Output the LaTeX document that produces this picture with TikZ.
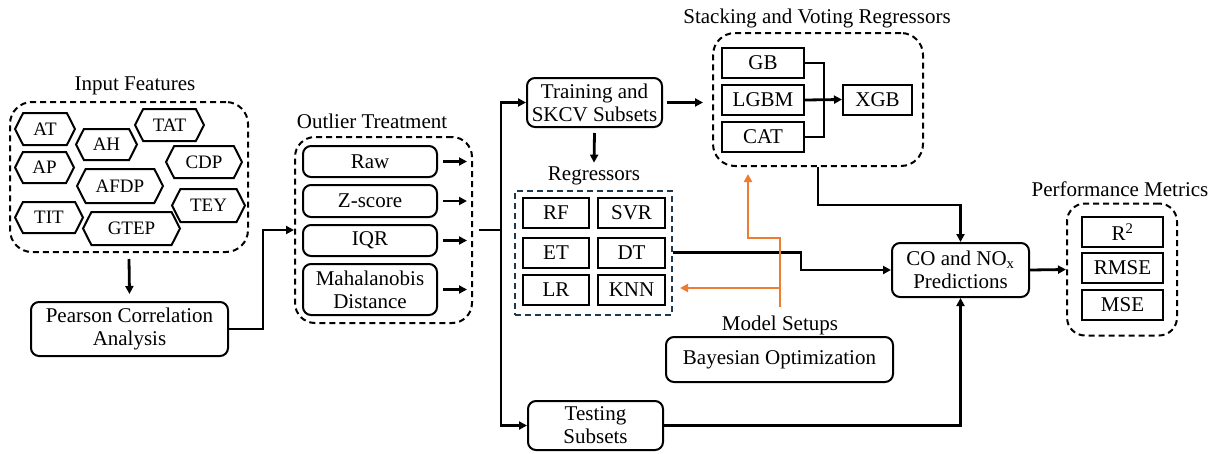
\documentclass[tikz,border=0pt]{standalone}
\usepackage{fontspec}
\setmainfont{Liberation Serif}[Ligatures=TeX]
\newfontfamily\timesfont{Liberation Serif}
\usetikzlibrary{shapes.symbols,arrows.meta,calc}

\begin{document}
\begin{tikzpicture}[x=1pt,y=-1pt,
  font=\timesfont\fontsize{21}{23}\selectfont,
  conn/.style={line width=2.8pt,-{Triangle[length=8pt,width=8pt]}},
  plain/.style={line width=2.8pt},
  oconn/.style={line width=2.8pt,draw=orangeline,-{Triangle[length=8pt,width=8pt]}},
  rbox/.style={draw,line width=2pt,rounded corners=8pt,align=center,inner sep=0pt},
  sbox/.style={draw,line width=2pt,inner sep=0pt,minimum height=30pt},
  group/.style={draw,line width=2pt,dash pattern=on 6pt off 4pt,rounded corners=20pt,inner sep=0pt},
  hexa/.style={draw,signal,signal to=west and east,signal pointer angle=126,
    line width=2pt,inner sep=0pt,font=\timesfont\fontsize{19}{20}\selectfont},
  heading/.style={inner sep=0pt}]
\definecolor{orangeline}{RGB}{237,125,49}
\definecolor{slate}{RGB}{31,56,76}

\useasboundingbox (0,0) rectangle (1215,453);

% ---------- input features ----------
\node[heading] (inpt) at (135,86) {Input Features};
\node[group,rounded corners=22pt,minimum width=238pt,minimum height=150pt] (inp) at (129,177) {};
\node[hexa,minimum width=60pt,minimum height=32pt] (fAT) at (45,129) {AT};
\node[hexa,minimum width=61pt,minimum height=31pt] (fAH) at (106.5,144.5) {AH};
\node[hexa,minimum width=69pt,minimum height=32pt] (fTAT) at (169.5,125) {TAT};
\node[hexa,minimum width=59pt,minimum height=31pt] (fAP) at (44.5,167.5) {AP};
\node[hexa,minimum width=76pt,minimum height=32pt] (fCDP) at (204,162) {CDP};
\node[hexa,minimum width=86pt,minimum height=34pt] (fAFDP) at (120,186) {AFDP};
\node[hexa,minimum width=73pt,minimum height=33pt] (fTEY) at (208.5,205.5) {TEY};
\node[hexa,minimum width=68pt,minimum height=31pt] (fTIT) at (49,217.5) {TIT};
\node[hexa,minimum width=97pt,minimum height=33pt] (fGTEP) at (131.5,228.5) {GTEP};

\node[rbox,minimum width=197pt,minimum height=54pt] (pear) at (129.5,329) {Pearson Correlation\\Analysis};

% ---------- outlier treatment ----------
\node[heading] (outt) at (372,121) {Outlier Treatment};
\node[group,minimum width=177pt,minimum height=186pt] (outl) at (383.5,230) {};
\node[rbox,minimum width=134pt,minimum height=31pt] (raw) at (370,161.5) {Raw};
\node[rbox,minimum width=134pt,minimum height=32pt] (zsc) at (370,201) {Z-score};
\node[rbox,minimum width=134pt,minimum height=31pt] (iqr) at (370,240.5) {IQR};
\node[rbox,minimum width=134pt,minimum height=51pt] (mah) at (370,289.5) {Mahalanobis\\Distance};

% ---------- data split ----------
\node[rbox,minimum width=135pt,minimum height=49pt] (train) at (594.5,102.5) {Training and\\SKCV Subsets};
\node[rbox,minimum width=135pt,minimum height=49pt] (test) at (595.5,425.5) {Testing\\Subsets};
\coordinate (bus) at (501,0);

% ---------- regressors ----------
\node[heading] (regt) at (594,176) {Regressors};
\node[draw=slate,line width=2pt,dash pattern=on 6pt off 4pt,inner sep=0pt,
  minimum width=157pt,minimum height=124pt] (regs) at (593.5,253) {};
\node[sbox,minimum width=66pt] (rf) at (556,213) {RF};
\node[sbox,minimum width=67pt] (svr) at (631.5,213) {SVR};
\node[sbox,minimum width=66pt] (et) at (556,252.5) {ET};
\node[sbox,minimum width=67pt] (dt) at (631.5,252.5) {DT};
\node[sbox,minimum width=66pt] (lr) at (556,290) {LR};
\node[sbox,minimum width=67pt] (knn) at (631.5,290) {KNN};

% ---------- stacking and voting ----------
\node[heading] (stt) at (817,18) {Stacking and Voting Regressors};
\node[group,rounded corners=22pt,minimum width=210pt,minimum height=133pt] (stack) at (818,99.5) {};
\node[sbox,minimum width=82pt] (gb) at (763,63) {GB};
\node[sbox,minimum width=82pt] (lgbm) at (763,100) {LGBM};
\node[sbox,minimum width=82pt] (cat) at (763,137) {CAT};
\node[sbox,minimum width=69pt] (xgb) at (877.5,99.5) {XGB};
\coordinate (join) at (824,0);

% ---------- model setups ----------
\node[heading] (mst) at (780,325) {Model Setups};
\node[rbox,minimum width=227pt,minimum height=45pt] (bayes) at (779.5,359.5) {Bayesian Optimization};

% ---------- predictions and metrics ----------
\node[rbox,minimum width=137pt,minimum height=54pt] (co) at (960.5,270) {CO and NO\textsubscript{x}\\Predictions};
\node[heading] (pmt) at (1120,189) {Performance Metrics};
\node[group,rounded corners=18pt,minimum width=110pt,minimum height=132pt] (perf) at (1122,269.5) {};
\node[sbox,minimum width=81pt] (r2) at (1122.5,232) {R\textsuperscript{2}};
\node[sbox,minimum width=81pt] (rmse) at (1122.5,268) {RMSE};
\node[sbox,minimum width=81pt] (mse) at (1122.5,305) {MSE};

% ---------- connectors ----------
\draw[conn] ($(inp.south)+(0,6)$) -- ($(pear.north)+(0,-7)$);
\coordinate (bend1) at (263,0);
\draw[conn] (pear.east) -| (bend1|-outl.west) -- (outl.west);

\foreach \n in {raw,zsc,iqr,mah}
  \draw[conn] ($(\n.east)+(5,0)$) -- ($(outl.east|-\n.east)+(-6,0)$);

\draw[plain] ($(outl.east)+(6,0)$) -- (bus|-outl.east);
\draw[conn] (bus|-test.west) -- (bus|-train.west) -- (train.west);
\draw[conn] (bus|-train.west) -- (bus|-test.west) -- (test.west);

\draw[conn] ($(train.east)+(4,0)$) -- ($(stack.west|-train.east)+(-9,0)$);
\draw[conn] ($(train.south)+(0,5)$) -- ($(regt.north)+(0,-4)$);

\draw[plain] (gb.east) -| (join|-cat.east) -- (cat.east);
\draw[conn] (lgbm.east) -- (xgb.west);

\draw[conn] (stack.south) -- ++(0,38) -| (co.north);
\coordinate (dtbend) at (801,0);
\draw[conn] (regs.east|-dt.east) -| (dtbend|-co.west) -- (co.west);
\draw[conn] (test.east) -| (co.south);
\draw[conn] (co.east) -- (perf.west);

% tuning feedback
\coordinate (obase) at (780,307);
\coordinate (ostep) at (748,238);
\draw[oconn] (obase) |- (ostep) -- ($(ostep|-stack.south)+(0,7)$);
\draw[oconn] (780,288) -- ($(regs.east|-knn.east)+(7,-2)$);
\end{tikzpicture}
\end{document}
